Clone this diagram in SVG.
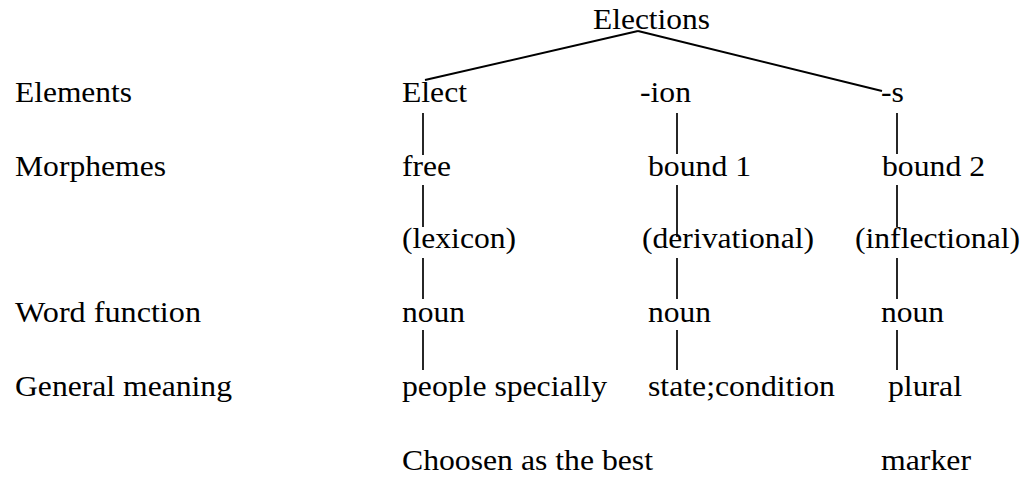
<svg xmlns="http://www.w3.org/2000/svg" width="1029" height="478" viewBox="0 0 1029 478">
<style>
text{font-family:"Liberation Serif","Times New Roman",serif;font-size:29px;fill:#000}
.c line{stroke:#000;stroke-width:2;stroke-linecap:butt}
.c .v{stroke-width:1.7}
</style>
<rect width="1029" height="478" fill="#fff"/>
<g id="labels">
<text x="15" y="102" textLength="117" lengthAdjust="spacingAndGlyphs">Elements</text>
<text x="15" y="176" textLength="151" lengthAdjust="spacingAndGlyphs">Morphemes</text>
<text x="15" y="322" textLength="186" lengthAdjust="spacingAndGlyphs">Word function</text>
<text x="15" y="396" textLength="217" lengthAdjust="spacingAndGlyphs">General meaning</text>
</g>
<g id="root"><text x="593" y="29" textLength="117" lengthAdjust="spacingAndGlyphs">Elections</text></g>
<g id="elect"><text x="402" y="102" textLength="65" lengthAdjust="spacingAndGlyphs">Elect</text></g>
<g id="ion"><text x="640" y="102" textLength="51" lengthAdjust="spacingAndGlyphs">-ion</text></g>
<g id="s"><text x="881" y="102" textLength="23" lengthAdjust="spacingAndGlyphs">-s</text></g>
<g id="free"><text x="402" y="176" textLength="49" lengthAdjust="spacingAndGlyphs">free</text></g>
<g id="bound1"><text x="648" y="176" textLength="103" lengthAdjust="spacingAndGlyphs">bound 1</text></g>
<g id="bound2"><text x="882" y="176" textLength="103" lengthAdjust="spacingAndGlyphs">bound 2</text></g>
<g id="lexicon"><text x="402" y="248" textLength="114" lengthAdjust="spacingAndGlyphs">(lexicon)</text></g>
<g id="derivational"><text x="642" y="248" textLength="172" lengthAdjust="spacingAndGlyphs">(derivational)</text></g>
<g id="inflectional"><text x="855" y="248" textLength="165" lengthAdjust="spacingAndGlyphs">(inflectional)</text></g>
<g id="noun1"><text x="402" y="322" textLength="63" lengthAdjust="spacingAndGlyphs">noun</text></g>
<g id="noun2"><text x="648" y="322" textLength="63" lengthAdjust="spacingAndGlyphs">noun</text></g>
<g id="noun3"><text x="881" y="322" textLength="63" lengthAdjust="spacingAndGlyphs">noun</text></g>
<g id="meaning1"><text x="402" y="396" textLength="205" lengthAdjust="spacingAndGlyphs">people specially</text><text x="402" y="470" textLength="251" lengthAdjust="spacingAndGlyphs">Choosen as the best</text></g>
<g id="meaning2"><text x="648" y="396" textLength="187" lengthAdjust="spacingAndGlyphs">state;condition</text></g>
<g id="meaning3"><text x="888" y="396" textLength="74" lengthAdjust="spacingAndGlyphs">plural</text><text x="881" y="470" textLength="90" lengthAdjust="spacingAndGlyphs">marker</text></g>
<g id="connectors" class="c">
<line x1="638" y1="31" x2="425" y2="80"/>
<line x1="638" y1="31" x2="882" y2="91"/>
<line class="v" x1="423" y1="113" x2="423" y2="155"/>
<line class="v" x1="423" y1="185" x2="423" y2="227"/>
<line class="v" x1="423" y1="258" x2="423" y2="299"/>
<line class="v" x1="423" y1="330" x2="423" y2="370"/>
<line class="v" x1="677" y1="113" x2="677" y2="154"/>
<line class="v" x1="677" y1="185" x2="677" y2="237"/>
<line class="v" x1="677" y1="258" x2="677" y2="299"/>
<line class="v" x1="677" y1="330" x2="677" y2="370"/>
<line class="v" x1="897" y1="113" x2="897" y2="154"/>
<line class="v" x1="897" y1="185" x2="897" y2="227"/>
<line class="v" x1="897" y1="258" x2="897" y2="299"/>
<line class="v" x1="897" y1="330" x2="897" y2="370"/>
</g>
</svg>
